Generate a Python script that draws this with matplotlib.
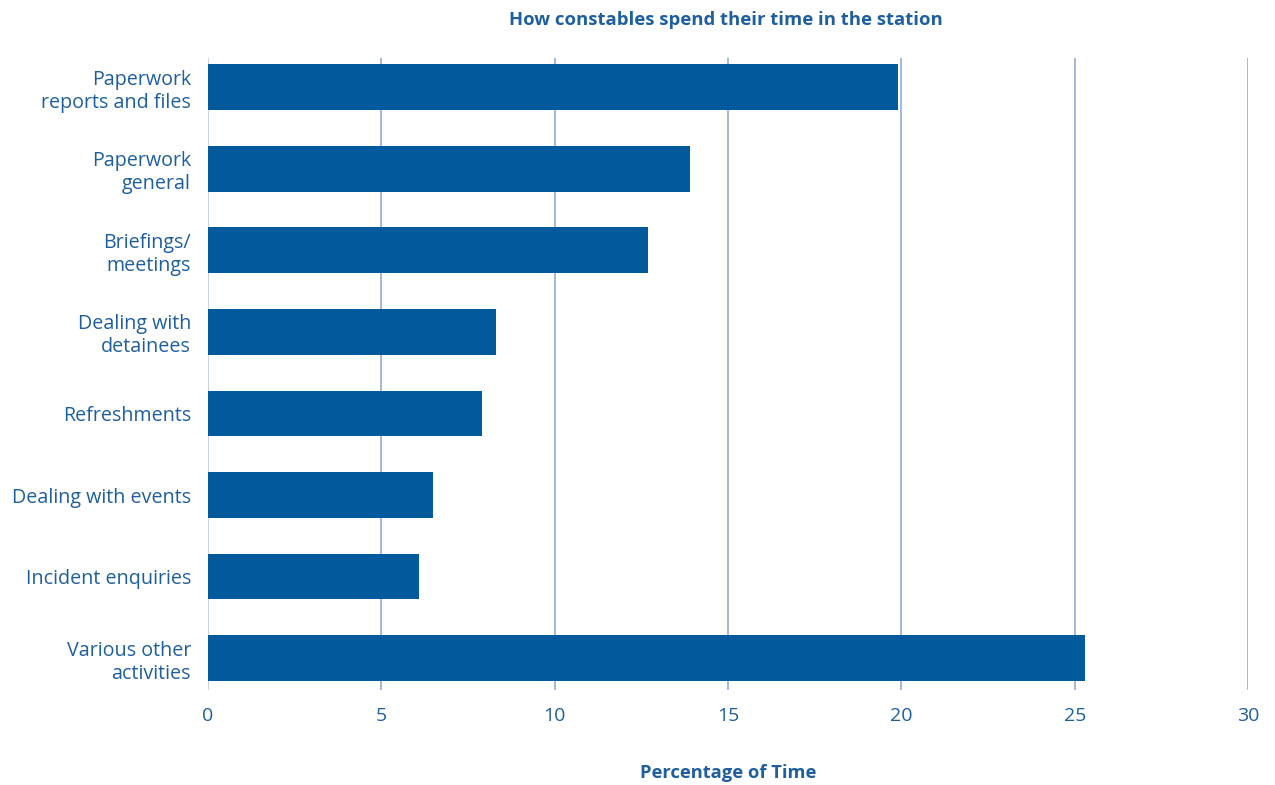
import matplotlib
matplotlib.use("Agg")
import matplotlib.pyplot as plt

categories = ["Paperwork\nreports and files", "Paperwork\ngeneral", "Briefings/\nmeetings",
              "Dealing with\ndetainees", "Refreshments", "Dealing with events",
              "Incident enquiries", "Various other\nactivities"]
values = [19.9, 13.9, 12.7, 8.3, 7.9, 6.5, 6.1, 25.3]
xticks = [0, 5, 10, 15, 20, 25, 30]

txt = "#1f5f9e"
bar_c = "#005a9c"
grid_c = "#98b2dd"

plt.rcParams['font.family'] = ['Open Sans', 'DejaVu Sans']
fig = plt.figure(figsize=(12.75, 7.85), dpi=100)
ax = fig.add_axes([0.1629, 0.121, 0.979 - 0.1629, 0.9265 - 0.121])
pos = list(range(len(categories)))
ax.barh(pos, values, height=0.56, color=bar_c, zorder=3)
ax.set_ylim(7.39, -0.36)
ax.set_xlim(0, 30)
ax.set_xticks(xticks)
ax.set_yticks(pos)
ax.set_yticklabels(categories, fontsize=14.2, color=txt, linespacing=1.2)
ax.set_xticklabels([str(t) for t in xticks], fontsize=14, color=txt)
for t in xticks:
    ax.axvline(t, color=("#c3cfe5" if t == 0 else grid_c), lw=1.3, zorder=1)
for s in ax.spines.values():
    s.set_visible(False)
ax.tick_params(axis='both', length=0)
ax.tick_params(axis='y', pad=12)
ax.tick_params(axis='x', pad=12)
ax.set_xlabel("Percentage of Time", fontsize=13.2, fontweight='bold', color=txt, labelpad=28)
fig.text(0.5695, 0.975, "How constables spend their time in the station", ha='center', va='center',
         fontsize=13.3, fontweight='bold', color=txt)
fig.savefig("out.png", dpi=100)
